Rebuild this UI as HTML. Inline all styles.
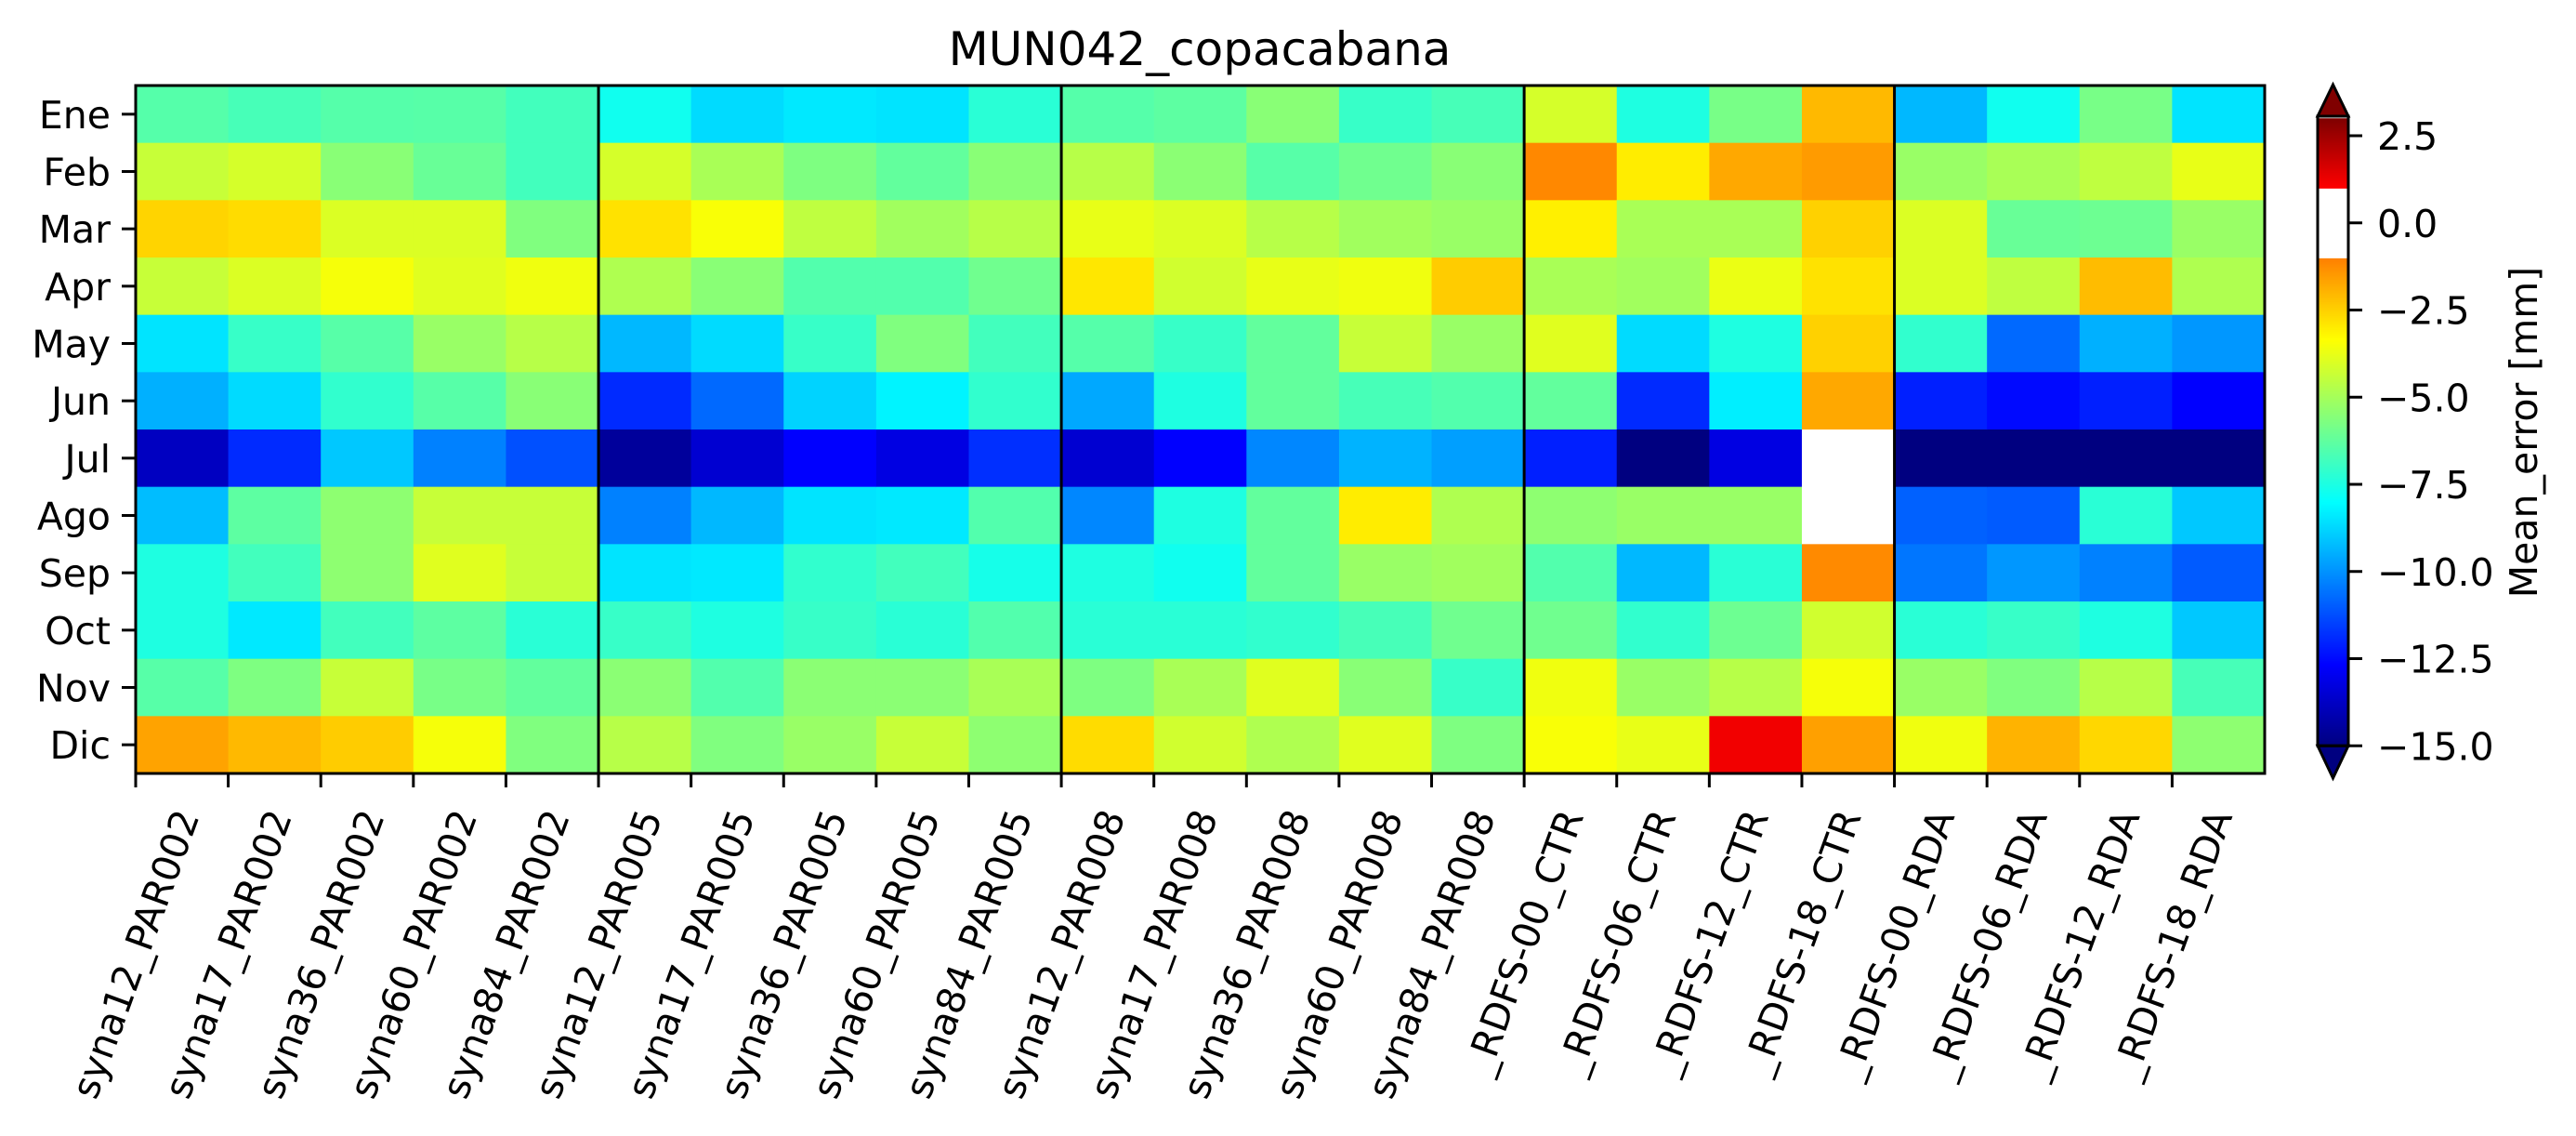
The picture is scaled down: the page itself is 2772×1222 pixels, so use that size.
<!DOCTYPE html>
<html><head><meta charset="utf-8"><style>
html,body{margin:0;padding:0;background:#fff;}
svg text{font-family:"DejaVu Sans","Liberation Sans",sans-serif;fill:#000;}
</style></head><body>
<svg id="chart" width="2772" height="1217" viewBox="0 0 2772 1217" xmlns="http://www.w3.org/2000/svg">
<rect x="0" y="0" width="2772" height="1217" fill="#fff"/>
<text x="1291" y="70" font-size="50" text-anchor="middle">MUN042_copacabana</text>
<g id="cells"></g>
<g id="seps"></g>
<rect x="146" y="92" width="2291" height="740" fill="none" stroke="#000" stroke-width="3"/>
<g id="yaxis"></g>
<g id="xaxis"></g>
<g id="cbar"></g>
<text transform="translate(2730,465) rotate(-90)" font-size="41" text-anchor="middle">Mean_error [mm]</text>
</svg>
<script>
const months = ["Ene","Feb","Mar","Apr","May","Jun","Jul","Ago","Sep","Oct","Nov","Dic"];
const runs = ["syna12_PAR002","syna17_PAR002","syna36_PAR002","syna60_PAR002","syna84_PAR002",
"syna12_PAR005","syna17_PAR005","syna36_PAR005","syna60_PAR005","syna84_PAR005",
"syna12_PAR008","syna17_PAR008","syna36_PAR008","syna60_PAR008","syna84_PAR008",
"_RDFS-00_CTR","_RDFS-06_CTR","_RDFS-12_CTR","_RDFS-18_CTR",
"_RDFS-00_RDA","_RDFS-06_RDA","_RDFS-12_RDA","_RDFS-18_RDA"];
const groupBreaks = [5,10,15,19];
const cbTicks = [2.5,0,-2.5,-5,-7.5,-10,-12.5,-15];
const cbTickLabels = ["2.5","0.0","\u22122.5","\u22125.0","\u22127.5","\u221210.0","\u221212.5","\u221215.0"];
// values per column (run), Ene..Dic
const c00=[-6.45,-4.35,-2.55,-4.35,-8.5,-9.45,-13.8,-9.2,-7.45,-7.45,-6.4,-1.65];
const c01=[-6.7,-4.1,-2.7,-4.0,-7.0,-8.65,-11.9,-6.3,-6.8,-8.4,-5.7,-2.05];
const c02=[-6.45,-5.5,-4.0,-3.5,-6.4,-7.1,-9.0,-5.4,-5.4,-6.8,-4.35,-2.4];
const c03=[-6.4,-6.1,-4.0,-3.9,-5.2,-6.4,-10.3,-4.35,-3.9,-6.3,-5.8,-3.5];
const c04=[-6.8,-6.8,-5.65,-3.6,-4.65,-5.5,-11.2,-4.35,-4.35,-7.25,-6.2,-5.65];
const c05=[-7.7,-4.1,-2.8,-4.8,-9.3,-11.9,-14.5,-10.3,-8.5,-7.0,-5.45,-4.65];
const c06=[-8.65,-4.9,-3.45,-5.5,-8.65,-10.75,-13.5,-9.3,-8.4,-7.45,-6.5,-5.65];
const c07=[-8.4,-5.7,-4.5,-6.5,-7.0,-8.8,-12.67,-8.5,-7.1,-7.0,-5.45,-5.2];
const c08=[-8.5,-6.2,-5.05,-6.5,-5.65,-8.2,-13.2,-8.4,-6.8,-7.25,-5.45,-4.35];
const c09=[-7.25,-5.5,-4.65,-5.95,-6.8,-7.1,-11.8,-6.5,-7.6,-6.5,-4.9,-5.4];
const c10=[-6.45,-4.65,-3.75,-2.9,-6.45,-9.6,-13.5,-10.2,-7.45,-7.25,-5.7,-2.7];
const c11=[-6.3,-5.45,-4.0,-4.2,-7.0,-7.45,-12.67,-7.45,-7.7,-7.25,-4.9,-4.2];
const c12=[-5.5,-6.4,-4.65,-3.75,-6.2,-6.2,-10.2,-6.2,-6.2,-7.1,-3.9,-4.8];
const c13=[-7.0,-5.95,-5.05,-3.6,-4.35,-6.7,-9.4,-3.0,-5.2,-6.7,-5.5,-3.9];
const c14=[-6.7,-5.5,-5.2,-2.4,-5.2,-6.5,-9.75,-4.8,-5.05,-5.95,-7.0,-5.7];
const c15=[-4.1,-1.15,-3.05,-4.9,-3.9,-6.2,-12.1,-5.4,-6.5,-5.95,-3.6,-3.45];
const c16=[-7.45,-3.0,-4.9,-5.05,-8.65,-11.9,-15.2,-5.2,-9.3,-7.1,-5.2,-3.75];
const c17=[-5.8,-1.75,-4.9,-3.7,-7.45,-8.3,-13.2,-5.2,-7.25,-6.0,-4.65,1.2];
const c18=[-2.05,-1.5,-2.5,-2.8,-2.5,-1.75,0.0,0.0,-1.2,-4.2,-3.5,-1.6];
const c19=[-9.3,-5.2,-4.0,-4.0,-7.1,-12.1,-15.5,-10.9,-10.5,-7.25,-5.2,-3.6];
const c20=[-7.7,-4.9,-6.1,-4.5,-10.75,-12.5,-15.5,-11.0,-9.9,-7.0,-5.65,-1.95];
const c21=[-5.8,-4.5,-6.0,-2.1,-9.45,-12.1,-15.5,-7.25,-10.3,-7.45,-4.65,-2.6];
const c22=[-8.5,-3.75,-5.2,-4.8,-9.9,-12.67,-15.5,-9.0,-11.0,-9.0,-6.7,-5.4];
const values=[c00,c01,c02,c03,c04,c05,c06,c07,c08,c09,c10,c11,c12,c13,c14,c15,c16,c17,c18,c19,c20,c21,c22];

const NS="http://www.w3.org/2000/svg";
const PL=146,PR=2437,PT=92,PB=832;
const colW=(PR-PL)/runs.length, rowH=(PB-PT)/months.length;
function xPos(i){return PL+i*colW;}
function yPos(j){return PT+j*rowH;}
function cl(v){return Math.max(0,Math.min(1,v));}
function jet(t){
  const r=cl(1.5-Math.abs(4*t-3)),g=cl(1.5-Math.abs(4*t-2)),b=cl(1.5-Math.abs(4*t-1));
  return `rgb(${Math.round(r*255)},${Math.round(g*255)},${Math.round(b*255)})`;
}
function cmap(v){
  if(v>=-1&&v<=1) return "#ffffff";
  if(v<-1) return jet(cl((v+15)/14)*0.75);
  return jet(0.875+cl((v-1)/2)*0.125);
}
function mk(tag,attrs,parent){const e=document.createElementNS(NS,tag);for(const k in attrs)e.setAttribute(k,attrs[k]);parent.appendChild(e);return e;}

const cells=document.getElementById('cells');
values.forEach((col,i)=>{col.forEach((v,j)=>{
  const r=mk('rect',{x:xPos(i),y:yPos(j),width:colW+0.6,height:rowH+0.6,fill:cmap(v)},cells);
  
  
});});
const seps=document.getElementById('seps');
groupBreaks.forEach(b=>{
  const l=mk('line',{x1:xPos(b),x2:xPos(b),y1:PT,y2:PB,stroke:'#000','stroke-width':3},seps);
  
  
});
const ya=document.getElementById('yaxis');
months.forEach((m,j)=>{
  const yc=yPos(j)+rowH/2;
  const t=mk('line',{x1:PL-15,x2:PL,y1:yc,y2:yc,stroke:'#000','stroke-width':3},ya);
  
  
  const tx=mk('text',{x:PL-27,y:yc+15,'font-size':41,'text-anchor':'end'},ya);
  tx.textContent=m;
  
  
});
const xa=document.getElementById('xaxis');
const s70=Math.sin(70*Math.PI/180),c70=Math.cos(70*Math.PI/180);
runs.forEach((r,i)=>{
  const xc=xPos(i);
  const t=mk('line',{x1:xc,x2:xc,y1:PB,y2:PB+15,stroke:'#000','stroke-width':3},xa);
  
  
  const tx=mk('text',{'font-size':41,'text-anchor':'middle','dominant-baseline':'central'},xa);
  tx.textContent=r;
  
  
  const L=tx.getComputedTextLength();
  const h=(L*s70+41*c70)/2;
  tx.setAttribute('transform',`translate(${xc},${866+h}) rotate(-70)`);
});
const cb=document.getElementById('cbar');
const CX=2494,CW=33;
function cy(v){return 146+(2.5-v)*37.5;}
for(let v=-15;v<3.0;v+=0.05){
  mk('rect',{x:CX,y:cy(v+0.05),width:CW,height:37.5*0.05+0.6,fill:cmap(v+0.025)},cb);
}
mk('polygon',{points:`${CX},${cy(3.06)} ${CX+CW/2},91 ${CX+CW},${cy(3.06)}`,fill:cmap(3),stroke:'#000','stroke-width':3,'stroke-linejoin':'miter'},cb);
mk('polygon',{points:`${CX},${cy(-15)} ${CX+CW/2},837 ${CX+CW},${cy(-15)}`,fill:cmap(-16),stroke:'#000','stroke-width':3},cb);
mk('rect',{x:CX,y:cy(3.06),width:CW,height:cy(-15)-cy(3.06),fill:'none',stroke:'#000','stroke-width':3},cb);
cbTicks.forEach((v,k)=>{
  const l=mk('line',{x1:CX+CW,x2:CX+CW+15,y1:cy(v),y2:cy(v),stroke:'#000','stroke-width':3},cb);
  
  
  const tx=mk('text',{x:2558,y:cy(v)+15,'font-size':41},cb);
  tx.textContent=cbTickLabels[k];
  
  
});
</script>
</body></html>
